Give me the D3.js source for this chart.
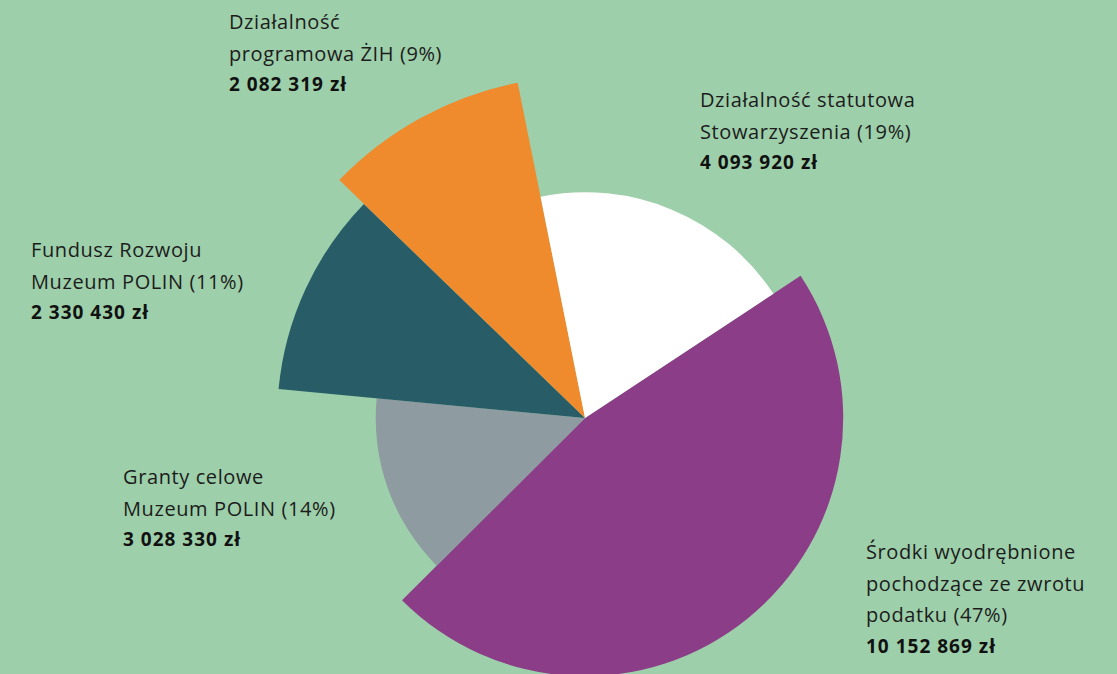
<!DOCTYPE html>
<html>
<head>
<meta charset="utf-8">
<script src="https://cdn.jsdelivr.net/npm/d3@7"></script>
<style>
  html, body { margin: 0; padding: 0; background: #9dcfaa; }
  svg { display: block; }
</style>
</head>
<body>
<svg id="chart"></svg>
<script>
// slices, in clockwise order starting from the purple one
const names = [
  ["Środki wyodrębnione", "pochodzące ze zwrotu", "podatku (47%)"],
  ["Granty celowe", "Muzeum POLIN (14%)"],
  ["Fundusz Rozwoju", "Muzeum POLIN (11%)"],
  ["Działalność", "programowa ŻIH (9%)"],
  ["Działalność statutowa", "Stowarzyszenia (19%)"]
];
const amounts = [10152869, 3028330, 2330430, 2082319, 4093920];
const amountLabels = ["10 152 869 zł", "3 028 330 zł", "2 330 430 zł", "2 082 319 zł", "4 093 920 zł"];
const colors = ["#8b3d87", "#8e9ba0", "#285d68", "#ef8a2d", "#ffffff"];
// relative slice length (share of the largest)
const radiusShare = [0.755, 0.612, 0.9, 1, 0.66];

const width = 1117, height = 674;
const cx = 585, cy = 418;
const maxR = 342;

const svg = d3.select("#chart")
    .attr("width", width)
    .attr("height", height);

svg.append("rect")
    .attr("width", width)
    .attr("height", height)
    .attr("fill", "#9dcfaa");

const start = 56.6 * Math.PI / 180;
const pie = d3.pie()
    .sort(null)
    .startAngle(start)
    .endAngle(start + 2 * Math.PI);

const r = d3.scaleLinear().domain([0, 1]).range([0, maxR]);

const arc = d3.arc()
    .innerRadius(0)
    .outerRadius(d => r(radiusShare[d.index]));

svg.append("g")
    .attr("transform", `translate(${cx},${cy})`)
  .selectAll("path")
  .data(pie(amounts))
  .join("path")
    .attr("fill", (d, i) => colors[i])
    .attr("d", arc);

// label anchors (left edge, first baseline)
const labelPos = [
  { x: 866, y: 559 },
  { x: 123, y: 484 },
  { x: 31, y: 257 },
  { x: 229, y: 29 },
  { x: 700, y: 107 }
];
const lineH = 31.5;

names.forEach((lines, i) => {
  const g = svg.append("g")
      .attr("transform", `translate(${labelPos[i].x},${labelPos[i].y})`);
  lines.forEach((t, j) => {
    g.append("text")
        .attr("y", j * lineH)
        .attr("font-family", "'Open Sans', Lato, sans-serif")
        .attr("font-size", 20)
        .attr("letter-spacing", 0.6)
        .attr("fill", "#1c1c1c")
        .text(t);
  });
  g.append("text")
      .attr("y", lines.length * lineH - 1)
      .attr("font-family", "'Noto Sans', Roboto, sans-serif")
      .attr("font-weight", "bold")
      .attr("font-size", 19)
      .attr("letter-spacing", 1)
      .attr("fill", "#111")
      .text(amountLabels[i]);
});
</script>
</body>
</html>
